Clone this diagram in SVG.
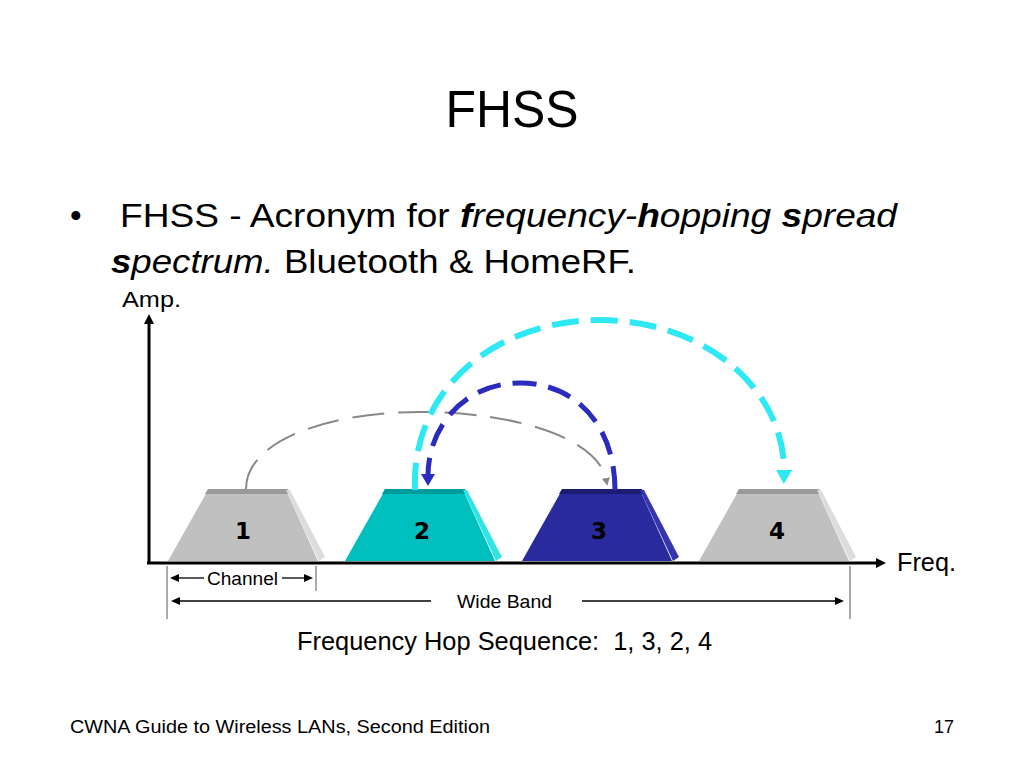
<svg xmlns="http://www.w3.org/2000/svg" width="1024" height="768" viewBox="0 0 1024 768">
<defs>
<style>
.sans{font-family:"Liberation Sans",Arial,sans-serif;fill:#000}
.narrow{font-family:"Liberation Sans Narrow","Liberation Sans",Arial,sans-serif;fill:#000}
.num{font-family:"DejaVu Sans","Liberation Sans",sans-serif;font-weight:bold;font-size:23px;text-anchor:middle;fill:#000}
.bi{font-weight:bold;font-style:italic}
.it{font-style:italic}
.axis{stroke:#000;stroke-width:3;fill:none}
.thin{stroke:#000;stroke-width:1.3;fill:none}
.tick{stroke:#555;stroke-width:1;fill:none}
</style>
<marker id="axArrow" markerUnits="userSpaceOnUse" markerWidth="12" markerHeight="12" refX="2" refY="5" orient="auto">
<path d="M0,0 L10,5 L0,10 z" fill="#000"/>
</marker>
<marker id="smArrow" markerUnits="userSpaceOnUse" markerWidth="10" markerHeight="8" refX="1" refY="4" orient="auto">
<path d="M0,0 L9,4 L0,8 z" fill="#000"/>
</marker>
<marker id="blueArrow" markerUnits="userSpaceOnUse" markerWidth="14" markerHeight="14" refX="2" refY="7" orient="auto">
<path d="M0,0 L12,7 L0,14 z" fill="#2b2bbd"/>
</marker>
<marker id="cyanArrow" markerUnits="userSpaceOnUse" markerWidth="16" markerHeight="16" refX="2" refY="8" orient="auto">
<path d="M0,0 L14,8 L0,16 z" fill="#2ee8f4"/>
</marker>
<marker id="grayArrow" markerUnits="userSpaceOnUse" markerWidth="10" markerHeight="10" refX="1" refY="4" orient="auto">
<path d="M0,0 L8,4 L0,8 z" fill="#888"/>
</marker>
</defs>
<rect width="1024" height="768" fill="#fff"/>

<text class="sans" x="512" y="127" font-size="52" text-anchor="middle" textLength="133" lengthAdjust="spacingAndGlyphs">FHSS</text>

<text class="sans" x="70" y="227" font-size="33">•</text>
<text class="sans" x="120" y="227" font-size="33" textLength="777" lengthAdjust="spacingAndGlyphs">FHSS - Acronym for <tspan class="bi">f</tspan><tspan class="it">requency-</tspan><tspan class="bi">h</tspan><tspan class="it">opping </tspan><tspan class="bi">s</tspan><tspan class="it">pread</tspan></text>
<text class="sans" x="111" y="273" font-size="33" textLength="525" lengthAdjust="spacingAndGlyphs"><tspan class="bi">s</tspan><tspan class="it">pectrum.</tspan> Bluetooth &amp; HomeRF.</text>

<g id="axes">
<text class="narrow" x="122" y="307" font-size="22" textLength="59" lengthAdjust="spacingAndGlyphs">Amp.</text>
<line class="axis" x1="149" y1="564" x2="149" y2="322" marker-end="url(#axArrow)"/>
<line class="axis" x1="147" y1="563" x2="878" y2="563" marker-end="url(#axArrow)"/>
<text class="narrow" x="897" y="571" font-size="25" textLength="59" lengthAdjust="spacingAndGlyphs">Freq.</text>
</g>

<g id="node1">
<polygon points="168,561 208,490 286,490 318,561" fill="#c0c0c0"/>
<polygon points="208,489 288,489 290,494 205,494" fill="#9a9a9a"/>
<polygon points="286,490 290,490 325,557 319,561" fill="#dcdcdc"/>
<text class="num" x="243" y="539">1</text>
</g>
<g id="node2">
<polygon points="345,561 385,490 463,490 495,561" fill="#00bfbf"/>
<polygon points="385,489 465,489 467,494 382,494" fill="#009b9b"/>
<polygon points="463,490 467,490 502,557 496,561" fill="#33e3e3"/>
<text class="num" x="422" y="539">2</text>
</g>
<g id="node3">
<polygon points="522,561 562,490 640,490 672,561" fill="#2a2a9f"/>
<polygon points="562,489 642,489 644,494 559,494" fill="#1b1b70"/>
<polygon points="640,490 644,490 679,557 673,561" fill="#3535b0"/>
<text class="num" x="599" y="539">3</text>
</g>
<g id="node4">
<polygon points="699,561 739,490 817,490 849,561" fill="#c0c0c0"/>
<polygon points="739,489 819,489 821,494 736,494" fill="#9a9a9a"/>
<polygon points="817,490 821,490 856,557 850,561" fill="#dcdcdc"/>
<text class="num" x="777" y="539">4</text>
</g>

<g id="connectors">
<path d="M246,489 C246,440 330,412 420,412 C520,412 598,440 606,479" fill="none" stroke="#888" stroke-width="2" stroke-dasharray="32 14" marker-end="url(#grayArrow)"/>
<path d="M615,490 C615,425 575,383 520,383 C466,383 428,425 428,476" fill="none" stroke="#2b2bbd" stroke-width="5" stroke-dasharray="24 12" marker-end="url(#blueArrow)"/>
<path d="M415,490 C411,385 500,320 600,320 C705,320 785,390 784,472" fill="none" stroke="#2ee8f4" stroke-width="6" stroke-dasharray="27 12" marker-end="url(#cyanArrow)"/>
</g>

<g id="scale">
<line class="tick" x1="167" y1="566" x2="167" y2="619"/>
<line class="tick" x1="316" y1="566" x2="316" y2="591"/>
<line class="tick" x1="850" y1="566" x2="850" y2="619"/>
<line class="thin" x1="204" y1="578" x2="178" y2="578" marker-end="url(#smArrow)"/>
<text class="narrow" x="207" y="585" font-size="18" textLength="71" lengthAdjust="spacingAndGlyphs">Channel</text>
<line class="thin" x1="282" y1="578" x2="305" y2="578" marker-end="url(#smArrow)"/>
<line class="thin" x1="431" y1="601" x2="179" y2="601" marker-end="url(#smArrow)"/>
<text class="narrow" x="457" y="608" font-size="19" textLength="95" lengthAdjust="spacingAndGlyphs">Wide Band</text>
<line class="thin" x1="582" y1="601" x2="836" y2="601" marker-end="url(#smArrow)"/>
</g>

<text class="narrow" x="297" y="650" font-size="25" textLength="415" lengthAdjust="spacingAndGlyphs">Frequency Hop Sequence:&#160; 1, 3, 2, 4</text>

<text class="sans" x="70" y="733" font-size="18" textLength="420" lengthAdjust="spacingAndGlyphs">CWNA Guide to Wireless LANs, Second Edition</text>
<text class="sans" x="954" y="733" font-size="18" text-anchor="end">17</text>
</svg>
